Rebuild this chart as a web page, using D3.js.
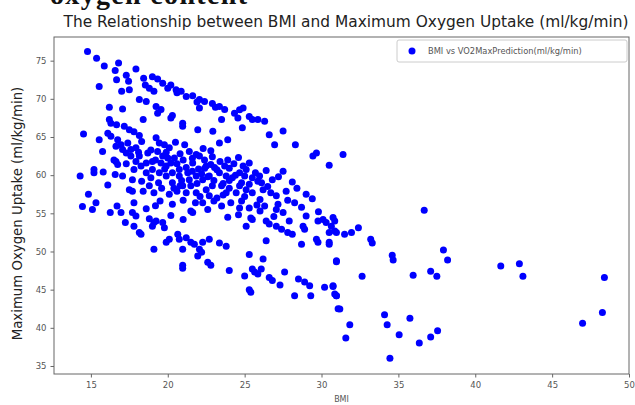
<!DOCTYPE html>
<html>
<head>
<meta charset="utf-8">
<script src="https://cdn.jsdelivr.net/npm/d3@7"></script>
<style>
  body { margin: 0; background: #fff; }
  svg { display: block; font-family: "DejaVu Sans", sans-serif; }
</style>
</head>
<body>
<div id="chart"></div>
<script>
// BMI vs predicted VO2max
const points = [
  // upper band
  [14.78,76.2],[15.37,75.3],[15.87,74.3],[16.8,74.7],[16.58,73.7],[16.67,72.5],[17.3,73.1],[17.45,72.3],
  [17.93,73.9],[17.0,71.0],[17.5,71.2],[15.54,71.6],[18.43,72.7],[18.54,71.8],[19.0,72.9],[19.34,72.6],
  [19.67,72.05],[20.0,71.4],[20.2,71.8],[20.54,71.2],[20.87,71.0],[21.2,70.3],[21.62,70.4],[22.06,69.9],
  [22.39,69.65],[22.9,69.4],[23.36,69.0],[23.7,68.6],[18.8,71.4],[19.1,71.0],[18.15,69.9],[18.6,69.65],
  [19.24,69.0],[19.56,68.6],[19.34,68.1],[16.2,68.9],[17.06,68.66],[20.3,67.8],[20.97,66.8],[20.97,66.4],
  [20.2,67.5],[22.06,68.8],[21.95,65.96],[22.93,65.74],[23.5,67.3],[24.34,68.1],[24.67,68.57],[24.9,68.8],
  [24.56,67.5],[24.85,66.2],[25.3,67.7],[25.5,67.3],[25.86,67.3],[26.3,67.05],[26.6,65.3],[26.95,64.0],
  [27.5,65.8],[28.3,64.0],[29.44,62.5],[29.67,62.9],[30.5,61.3],[20.6,70.8],[21.9,69.6],[23.1,68.9],
  // second band
  [16.2,67.3],[16.3,66.8],[16.67,66.6],[16.1,65.5],[16.3,65.1],[17.17,66.4],[17.5,65.96],[17.8,65.7],
  [18.15,65.2],[18.4,67.3],[14.52,65.4],[15.54,64.65],[15.76,63.1],[14.3,59.9],[15.2,60.74],[15.2,60.3],
  [16.63,63.8],[16.63,61.8],[16.58,60.1],[17.06,59.9],[17.06,63.35],[16.74,64.65],[16.96,64.0],[16.5,62.0],
  [16.74,61.4],[17.3,62.9],[17.6,62.5],[17.6,63.35],[17.93,63.6],[17.93,61.8],[18.15,62.5],[17.8,60.74],
  [18.26,61.2],[18.6,61.6],[18.6,60.3],[18.9,59.65],[19.0,60.74],[19.24,64.9],[19.45,64.2],[19.78,64.0],
  [20.1,63.6],[19.34,63.1],[19.67,62.5],[20.0,62.26],[19.56,61.6],[19.9,61.2],[20.2,61.6],[20.43,62.26],
  [20.3,60.3],[19.45,60.3],[19.9,59.9],[20.75,60.74],[20.75,59.9],[21.4,63.1],[21.85,62.7],[22.06,62.5],
  [22.39,62.0],[22.5,61.2],[22.8,61.4],[23.04,61.0],[21.62,61.6],[21.85,59.9],[21.4,59.4],[22.27,59.4],
  [22.7,59.9],[23.36,60.3],[23.8,59.9],[24.2,59.65],[24.67,60.3],[25.1,60.74],[25.0,59.9],[25.5,59.65],
  [25.97,59.9],[25.86,59.2],[23.36,64.2],[23.9,64.65],[27.06,57.3],[27.7,57.9],[29.0,57.5],[24.67,58.6],
  [25.1,58.1],[23.5,58.6],[22.9,58.6],[20.97,58.6],[20.3,59.0],[18.8,58.6],[19.1,57.7],[17.5,58.1],
  [21.2,57.7],[21.85,57.7],[22.5,58.1],[23.8,57.7],[24.45,57.7],[25.5,57.7],[26.2,58.1],[18.3,59.2],
  [18.1,63.0],[18.7,62.9],[19.2,62.0],[20.6,61.5],[21.0,62.0],[21.2,61.0],[22.0,60.8],[22.2,60.2],
  [23.4,61.8],[23.7,61.2],[24.0,60.9],[24.3,61.5],[24.6,62.3],[25.3,61.6],[26.4,60.6],[26.8,59.4],
  [27.2,59.8],[27.5,60.5],[28.1,59.1],[18.4,57.9],[19.6,58.3],[20.1,57.5],[20.6,57.9],[21.5,58.6],
  [22.7,57.3],[23.2,57.0],[24.0,58.3],[25.0,57.2],[26.0,56.8],[26.7,57.7],[28.4,58.3],[20.5,64.3],
  [21.1,64.0],[22.3,63.5],[22.8,63.2],[21.3,60.3],[17.3,61.5],[17.7,59.4],[16.1,58.7],[15.8,60.4],
  [19.4,59.0],[19.8,60.8],[20.4,58.3],[20.9,59.3],[21.6,60.5],[21.9,58.9],[22.4,60.9],[22.6,59.8],
  [23.0,59.3],[23.2,60.7],[23.6,58.9],[24.0,59.3],[24.4,60.0],[24.8,59.0],[25.3,58.8],[25.7,60.3],
  [26.1,59.0],[26.5,58.5],[24.9,61.2],[23.9,62.0],[22.9,62.4],[21.6,62.2],[20.8,62.8],[19.9,63.0],
  [18.9,63.3],[18.3,64.4],[17.4,64.2],[20.8,58.6],[19.0,61.8],[22.1,57.2],[23.6,57.4],[24.8,56.6],
  // lower-middle cluster
  [14.84,57.5],[14.45,55.9],[15.1,55.5],[15.33,56.4],[16.26,55.1],[16.7,55.95],[16.96,55.1],[17.24,53.8],
  [17.7,55.1],[17.93,54.65],[17.8,56.4],[17.7,57.9],[17.8,53.3],[18.15,52.5],[18.26,52.26],[18.8,54.3],
  [19.1,53.8],[19.24,54.0],[19.0,53.3],[19.67,53.8],[19.78,53.1],[19.1,50.3],[19.9,51.2],[20.1,51.6],
  [20.65,52.26],[20.75,51.6],[21.2,51.8],[20.97,50.3],[21.5,51.2],[21.73,50.96],[22.06,50.3],[22.27,51.2],
  [22.7,51.6],[21.95,49.4],[22.2,49.9],[20.97,48.2],[20.97,47.8],[22.6,48.6],[22.8,48.2],[23.36,51.1],
  [23.8,50.7],[24.0,47.5],[25.0,46.8],[25.3,49.6],[25.5,47.7],[25.65,47.3],[25.86,47.04],[26.08,47.7],
  [26.2,49.0],[25.3,45.0],[25.4,44.65],[26.6,46.6],[26.8,46.2],[27.3,45.6],[27.6,47.3],[28.25,44.2],
  [28.5,46.4],[28.9,46.0],[29.23,45.5],[29.3,44.2],[30.2,45.3],[30.75,45.5],[30.97,44.2],[31.08,42.5],
  [30.97,48.8],[28.7,50.96],[29.77,51.2],[30.5,50.96],[25.1,53.3],[25.4,54.4],[26.4,51.4],[26.6,53.6],
  [27.06,53.3],[27.4,52.9],[27.8,52.5],[28.1,52.26],[27.9,54.0],[28.8,53.3],[28.9,52.9],[29.0,54.65],
  [29.77,54.0],[30.1,54.2],[30.3,53.8],[30.5,52.5],[30.86,52.7],[29.67,51.6],[25.5,54.2],[26.3,55.95],
  [27.06,55.5],[27.17,56.2],[27.5,55.1],[28.25,56.4],[25.3,55.7],[24.67,55.7],[23.5,55.95],[22.6,55.5],
  [22.27,56.4],[21.62,55.1],[21.5,55.3],[19.5,56.6],[20.3,56.2],[21.0,56.7],[23.0,56.6],[24.1,56.4],
  [24.6,54.8],[23.9,54.5],[25.8,56.1],[26.9,54.6],[28.7,55.8],[29.4,56.9],[29.8,55.2],[21.8,56.4],
  [19.2,56.0],[18.6,55.6],[20.2,54.7],[21.0,54.2],[26.0,55.3],[27.8,56.7],[26.4,54.0],
  // right tail
  [36.68,55.4],[30.75,54.44],[30.86,54.0],[30.64,53.3],[30.97,52.5],[31.5,52.26],[31.95,52.5],[32.4,53.1],
  [30.5,51.2],[33.2,51.6],[33.3,51.1],[30.97,48.65],[32.64,46.74],[34.6,49.5],[34.66,48.9],[35.96,46.9],
  [37.1,47.4],[37.5,46.74],[37.93,50.2],[38.2,48.9],[41.66,48.1],[42.87,48.4],[43.1,46.74],[48.4,46.6],
  [48.27,42.0],[46.98,40.6],[30.75,45.4],[30.86,44.43],[30.97,44.2],[31.19,42.47],[31.84,40.4],[31.58,38.65],
  [34.1,41.7],[34.27,40.4],[35.75,41.25],[35.05,39.1],[36.36,38.0],[37.1,38.8],[37.55,39.6],[34.45,36.0],
  [31.4,62.7]
];

const xTicks = [15, 20, 25, 30, 35, 40, 45, 50];
const yTicks = [35, 40, 45, 50, 55, 60, 65, 70, 75];
const xDomain = [12.6, 50.0];
const yDomain = [33.95, 78.1];

const titleText = 'The Relationship between BMI and Maximum Oxygen Uptake (ml/kg/min)';
const topText = 'oxygen content';
const xLabel = 'BMI';
const yLabel = 'Maximum Oxygen Uptake (ml/kg/min)';
const legendLabel = 'BMI vs VO2MaxPrediction(ml/kg/min)';

const width = 635, height = 405;
const margin = {top: 37, right: 6, bottom: 31, left: 54};

const svg = d3.select('#chart').append('svg').attr('width', width).attr('height', height);

const x = d3.scaleLinear().domain(xDomain).range([margin.left, width - margin.right]);
const y = d3.scaleLinear().domain(yDomain).range([height - margin.bottom, margin.top]);

// stray heading cut off at the top of the picture
svg.append('text')
  .attr('x', 50).attr('y', 4)
  .attr('font-family', '"Liberation Serif", serif')
  .attr('font-weight', 'bold')
  .attr('font-size', 28)
  .attr('textLength', 197)
  .attr('fill', '#111')
  .text(topText);

svg.append('text')
  .attr('x', 346).attr('y', 27)
  .attr('text-anchor', 'middle')
  .attr('font-size', 15.4)
  .attr('fill', '#222')
  .text(titleText);

// points
svg.append('g').selectAll('circle').data(points).join('circle')
  .attr('cx', d => x(d[0]))
  .attr('cy', d => y(d[1]))
  .attr('r', 3.5)
  .attr('fill', 'blue');

// axes
const xAxis = svg.append('g').attr('transform', `translate(0,${height - margin.bottom})`)
  .call(d3.axisBottom(x).tickValues(xTicks).tickSize(3.5).tickPadding(4));
const yAxis = svg.append('g').attr('transform', `translate(${margin.left},0)`)
  .call(d3.axisLeft(y).tickValues(yTicks).tickSize(3.5).tickPadding(4));
[xAxis, yAxis].forEach(a => {
  a.select('.domain').remove();
  a.selectAll('line').attr('stroke', '#666');
  a.selectAll('text').attr('font-size', 8.5).attr('fill', '#555').attr('font-family', '"DejaVu Sans", sans-serif');
});

// frame
svg.append('rect')
  .attr('x', margin.left).attr('y', margin.top)
  .attr('width', width - margin.right - margin.left)
  .attr('height', height - margin.bottom - margin.top)
  .attr('fill', 'none').attr('stroke', '#666').attr('stroke-width', 1);

svg.append('text')
  .attr('x', (margin.left + width - margin.right) / 2).attr('y', 402)
  .attr('text-anchor', 'middle')
  .attr('font-size', 8)
  .attr('fill', '#555')
  .text(xLabel);

svg.append('text')
  .attr('transform', `translate(22,${(margin.top + height - margin.bottom) / 2 + 8}) rotate(-90)`)
  .attr('text-anchor', 'middle')
  .attr('font-size', 13.3)
  .attr('fill', '#222')
  .text(yLabel);

// legend
const lg = svg.append('g');
lg.append('rect')
  .attr('x', 397).attr('y', 40).attr('width', 230).attr('height', 22).attr('rx', 2)
  .attr('fill', 'white').attr('fill-opacity', 0.8)
  .attr('stroke', '#ccc');
lg.append('circle').attr('cx', 412).attr('cy', 51).attr('r', 3.5).attr('fill', 'blue');
lg.append('text')
  .attr('x', 428).attr('y', 54)
  .attr('font-size', 8.3)
  .attr('fill', '#555')
  .text(legendLabel);
</script>
</body>
</html>
